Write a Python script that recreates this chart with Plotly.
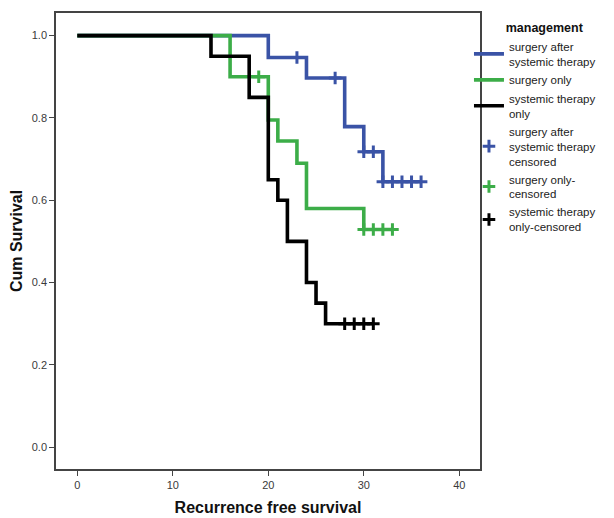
import plotly.graph_objects as go

# Kaplan-Meier step data (time, cumulative survival)
blue_t = [0, 20, 24, 28, 30, 32, 36]
blue_s = [1.0, 0.947, 0.897, 0.779, 0.718, 0.645, 0.645]
blue_cens_t = [23, 27, 30, 31, 32, 33, 34, 35, 36]
blue_cens_s = [0.947, 0.897, 0.718, 0.718, 0.645, 0.645, 0.645, 0.645, 0.645]

green_t = [0, 16, 20, 21, 23, 24, 30, 33]
green_s = [1.0, 0.90, 0.795, 0.744, 0.69, 0.58, 0.529, 0.529]
green_cens_t = [19, 30, 31, 32, 33]
green_cens_s = [0.90, 0.529, 0.529, 0.529, 0.529]

black_t = [0, 14, 18, 20, 21, 22, 24, 25, 26, 31]
black_s = [1.0, 0.95, 0.85, 0.65, 0.60, 0.50, 0.40, 0.35, 0.30, 0.30]
black_cens_t = [28, 29, 30, 31]
black_cens_s = [0.30, 0.30, 0.30, 0.30]

x_ticks = [0, 10, 20, 30, 40]
y_ticks = [0, 0.2, 0.4, 0.6, 0.8, 1.0]

names = ["surgery after<br>systemic therapy", "surgery only", "systemic therapy<br>only",
         "surgery after<br>systemic therapy<br>censored", "surgery only-<br>censored",
         "systemic therapy<br>only-censored"]

BLUE = "#3a53a6"
GREEN = "#3cad48"
BLACK = "#000000"
FONT = "Liberation Sans, Arial"

fig = go.Figure()
steps = [(blue_t, blue_s, BLUE, names[0], 1), (green_t, green_s, GREEN, names[1], 2),
         (black_t, black_s, BLACK, names[2], 3)]
for t, s, c, n, r in steps:
    fig.add_trace(go.Scatter(x=t, y=s, mode="lines", line=dict(color=c, width=3.6, shape="hv"),
                             name=n, legendrank=r))
cens = [(blue_cens_t, blue_cens_s, BLUE, names[3], 4), (green_cens_t, green_cens_s, GREEN, names[4], 5),
        (black_cens_t, black_cens_s, BLACK, names[5], 6)]
for t, s, c, n, r in cens:
    fig.add_trace(go.Scatter(x=t, y=s, mode="markers",
                             marker=dict(symbol="cross-thin", size=9, line=dict(color=c, width=3)),
                             name=n, legendrank=r))

axis_common = dict(showgrid=False, zeroline=False, showline=True, linecolor="#444444", linewidth=1.5,
                   mirror=True, ticks="outside", ticklen=5, tickcolor="#444444",
                   tickfont=dict(family=FONT, size=11, color="#3a3a3a"))
fig.update_xaxes(range=[-2.23, 42.17], tickvals=x_ticks,
                 title=dict(text="<b>Recurrence free survival</b>", standoff=12,
                            font=dict(family=FONT, size=16, color="#111111")),
                 **axis_common)
fig.update_yaxes(range=[-0.053, 1.055], tickvals=y_ticks, tickformat=".1f",
                 title=dict(text="<b>Cum Survival</b>", standoff=10,
                            font=dict(family=FONT, size=16, color="#111111")),
                 **axis_common)
# page body adds an 8px offset, so the figure is sized/margined to compensate
fig.update_layout(
    width=606, height=510,
    margin=dict(l=48, r=134, t=5, b=49, autoexpand=False),
    paper_bgcolor="white", plot_bgcolor="white",
    showlegend=True,
    legend=dict(x=0.974, y=0.993, xanchor="left", yanchor="top",
                title=dict(text="\u00a0" * 10 + "<b>management</b>", side="top",
                           font=dict(family=FONT, size=12.5, color="#111111")),
                font=dict(family=FONT, size=11.5, color="#222222"),
                tracegroupgap=0, itemwidth=30, bgcolor="rgba(0,0,0,0)"),
)
fig.write_html("out.html")
